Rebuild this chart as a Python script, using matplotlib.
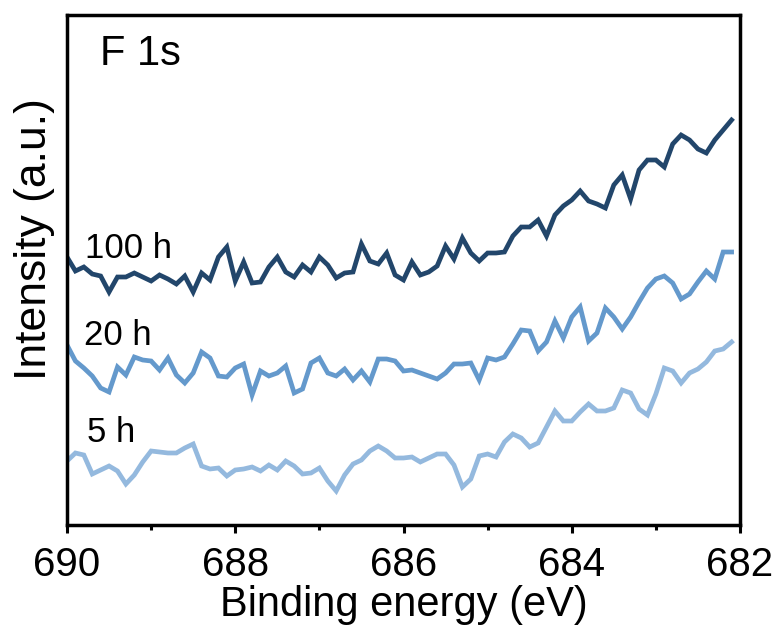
import numpy as np
import matplotlib
matplotlib.use('Agg')
import matplotlib.pyplot as plt

plt.rcParams['font.family'] = ['Liberation Sans', 'DejaVu Sans']

# binding energy grid, 0.1 eV step
energy = np.round(np.arange(690.0, 682.05, -0.1), 1)

# F 1s spectra (a.u.), stacked
f1s_100h = [268, 254, 258, 251, 249, 233, 248, 248, 252, 248,
            244, 250, 246, 241, 249, 233, 252, 245, 268, 278,
            244, 263, 242, 243, 258, 268, 253, 248, 260, 253,
            268, 260, 247, 252, 253, 281, 264, 261, 272, 250,
            245, 263, 250, 253, 259, 279, 266, 287, 272, 264,
            272, 272, 273, 289, 298, 298, 305, 289, 310, 319,
            325, 334, 324, 321, 317, 340, 350, 326, 355, 365,
            365, 358, 381, 390, 385, 376, 372, 385, 395, 405]

f1s_20h = [180, 164, 157, 149, 137, 133, 158, 150, 168, 165,
           164, 155, 167, 150, 142, 152, 173, 167, 149, 148,
           157, 161, 130, 154, 149, 152, 159, 132, 136, 162,
           167, 152, 149, 156, 145, 154, 143, 166, 166, 164,
           154, 155, 152, 149, 146, 152, 161, 161, 162, 145,
           167, 165, 168, 181, 195, 194, 174, 183, 204, 187,
           208, 218, 184, 192, 217, 208, 196, 208, 223, 237,
           246, 249, 242, 226, 231, 243, 254, 246, 273, 273]

f1s_5h = [64, 72, 70, 51, 55, 59, 54, 41, 50, 63,
          74, 73, 72, 72, 77, 81, 59, 56, 57, 49,
          55, 56, 58, 54, 60, 55, 64, 59, 51, 52,
          57, 44, 34, 50, 61, 65, 74, 79, 74, 67,
          67, 68, 63, 67, 71, 71, 60, 38, 46, 69,
          71, 68, 83, 91, 87, 78, 82, 98, 114, 104,
          104, 113, 121, 114, 114, 117, 135, 132, 116, 110,
          131, 157, 154, 142, 152, 156, 163, 174, 176, 183]

labels = ['100 h', '20 h', '5 h']
colors = ['#22466b', '#6499cc', '#94b9de']
label_pos = [(0.027, 0.524), (0.025, 0.353), (0.030, 0.163)]

fig = plt.figure(figsize=(7.79, 6.33), dpi=100)
ax = fig.add_axes([67/779, 108/633, 673/779, 510/633])

for series, lab, c, (tx, ty) in zip([f1s_100h, f1s_20h, f1s_5h], labels, colors, label_pos):
    ax.plot(energy, series, color=c, lw=3.4, solid_joinstyle='miter')
    ax.text(tx, ty, lab, transform=ax.transAxes, fontsize=25, va='baseline', ha='left')

ax.text(0.049, 0.902, 'F 1s', transform=ax.transAxes, fontsize=30, va='baseline', ha='left')

ax.set_xlim(690, 682)
ax.set_ylim(0, 510)
ax.set_xticks([690, 688, 686, 684, 682])
ax.set_xticks([689, 687, 685, 683], minor=True)
ax.set_yticks([])
ax.tick_params(axis='x', which='major', direction='out', length=6, width=2.2, labelsize=29, pad=9)
ax.tick_params(axis='x', which='minor', direction='out', length=3.5, width=2.2)
for s in ax.spines.values():
    s.set_linewidth(2.5)

ax.set_xlabel('Binding energy (eV)', fontsize=30, labelpad=1)
ax.set_ylabel('Intensity (a.u.)', fontsize=32)
ax.yaxis.set_label_coords(-0.018, 0.56)

fig.savefig('out.png', dpi=100)
